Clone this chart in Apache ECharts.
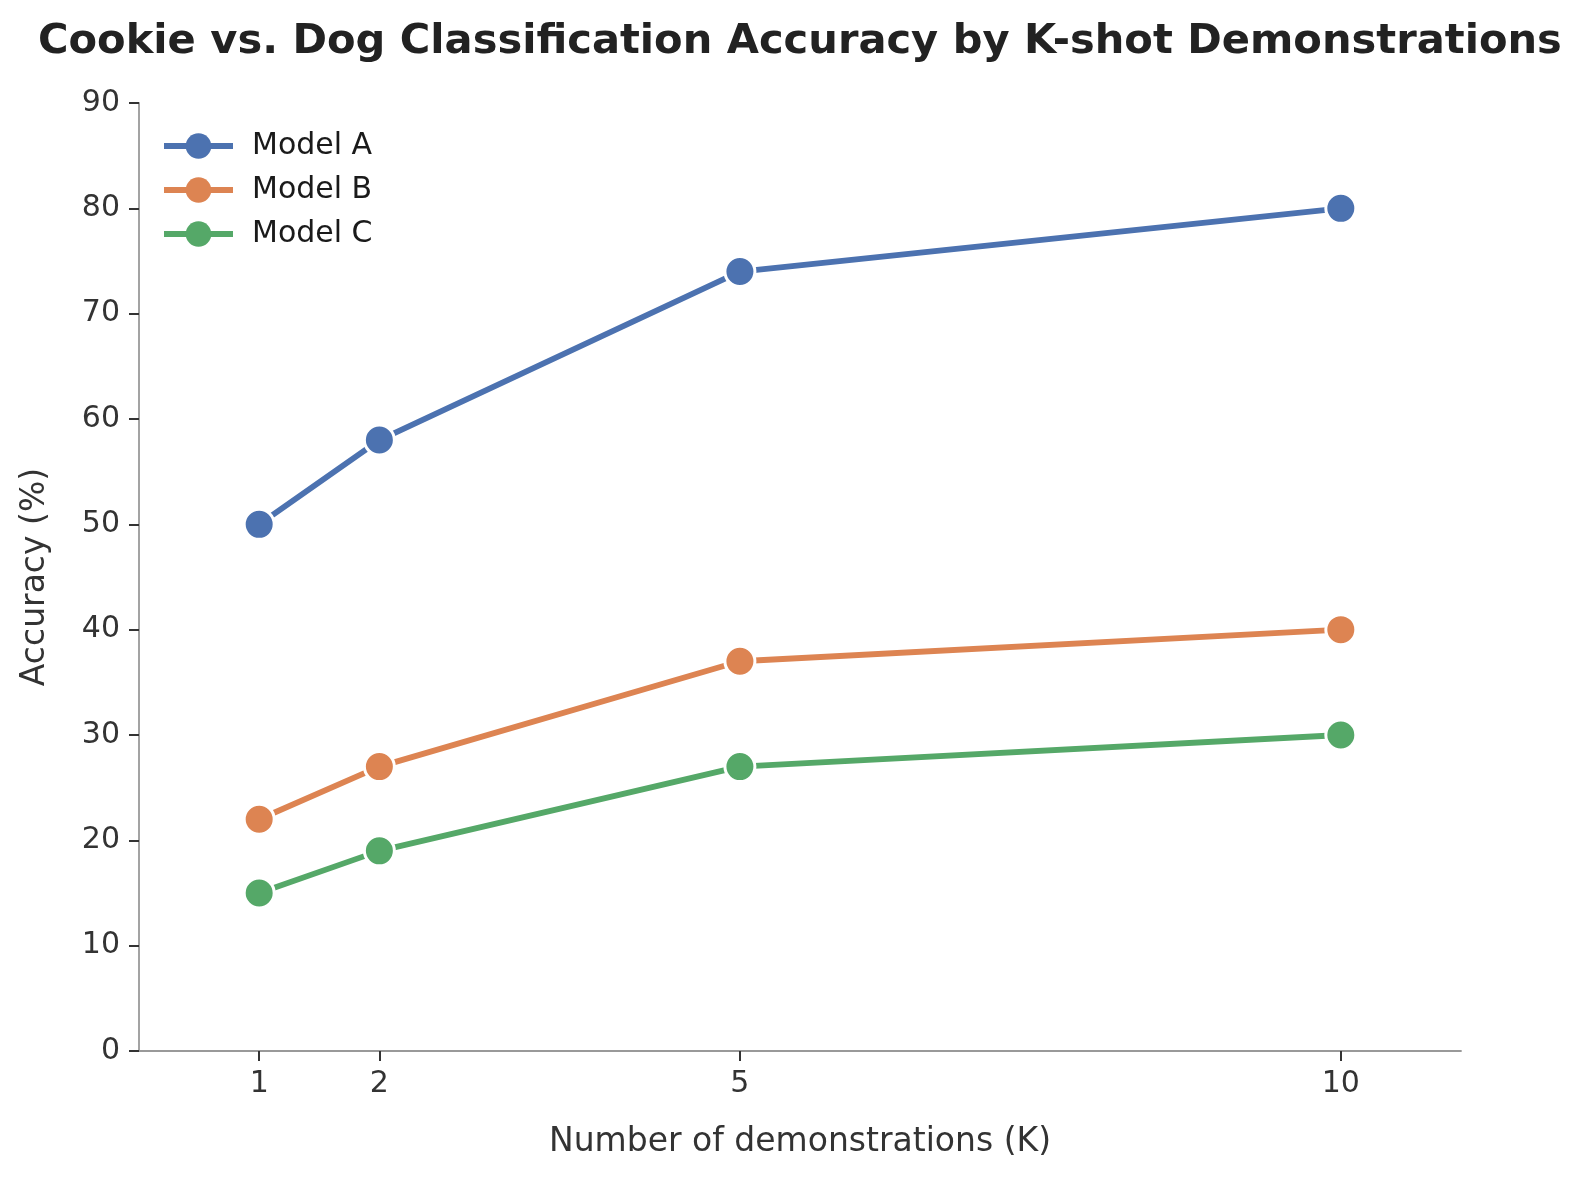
<!DOCTYPE html>
<html>
<head>
<meta charset="utf-8">
<script src="https://cdn.jsdelivr.net/npm/echarts@6/dist/echarts.min.js"></script>
<style>
  html, body { margin: 0; padding: 0; background: #fff; }
  #chart { width: 1582px; height: 1180px; }
</style>
</head>
<body>
<div id="chart"></div>
<script>
var kShots = [1, 2, 5, 10];
var modelA = [50, 58, 74, 80];
var modelB = [22, 27, 37, 40];
var modelC = [15, 19, 27, 30];
var seriesNames = ['Model A', 'Model B', 'Model C'];
var colors = ['#4c72b0', '#dd8452', '#55a868'];

function pairs(vals) {
	return kShots.map(function (k, i) { return [k, vals[i]]; });
}

function makeSeries(name, vals, color) {
	return {
		name: name,
		type: 'line',
		data: pairs(vals),
		symbol: 'circle',
		symbolSize: 30,
		lineStyle: { width: 5.8, color: color },
		itemStyle: { color: color, borderColor: '#fff', borderWidth: 3 },
		emphasis: { disabled: true }
	};
}

var chart = echarts.init(document.getElementById('chart'));
var font = 'DejaVu Sans';

chart.setOption({
	animation: false,
	color: colors,
	title: {
		text: 'Cookie vs. Dog Classification Accuracy by K-shot Demonstrations',
		left: 33,
		top: 16,
		textStyle: { fontFamily: font, fontSize: 41.6, fontWeight: 'bold', color: '#222' }
	},
	legend: {
		data: seriesNames,
		orient: 'vertical',
		left: 156,
		top: 126,
		itemWidth: 69,
		itemHeight: 32,
		itemGap: 14,
		lineStyle: { width: 6 },
		itemStyle: { borderWidth: 0 },
		textStyle: { fontFamily: font, fontSize: 30, color: '#1a1a1a', padding: [0, 0, 0, 14] }
	},
	grid: { left: 139, right: 121, top: 103, bottom: 129, containLabel: false },
	xAxis: {
		type: 'value',
		min: 0,
		max: 11,
		interval: 1,
		name: 'Number of demonstrations (K)',
		nameLocation: 'middle',
		nameGap: 75,
		nameTextStyle: { fontFamily: font, fontSize: 33, color: '#333' },
		splitLine: { show: false },
		axisLine: { lineStyle: { color: '#999', width: 1.8 } },
		axisTick: { show: true, customValues: kShots, length: 10, lineStyle: { color: '#333', width: 2 } },
		axisLabel: { customValues: kShots, margin: 18, fontFamily: font, fontSize: 30, color: '#333' }
	},
	yAxis: {
		type: 'value',
		min: 0,
		max: 90,
		interval: 10,
		name: 'Accuracy (%)',
		nameLocation: 'middle',
		nameGap: 87,
		nameTextStyle: { fontFamily: font, fontSize: 33, color: '#333' },
		splitLine: { show: false },
		axisLine: { show: true, lineStyle: { color: '#999', width: 1.8 } },
		axisTick: { show: true, length: 10, lineStyle: { color: '#333', width: 2 } },
		axisLabel: { margin: 19, fontFamily: font, fontSize: 30, color: '#333' }
	},
	series: [
		makeSeries(seriesNames[0], modelA, colors[0]),
		makeSeries(seriesNames[1], modelB, colors[1]),
		makeSeries(seriesNames[2], modelC, colors[2])
	]
});
</script>
</body>
</html>
